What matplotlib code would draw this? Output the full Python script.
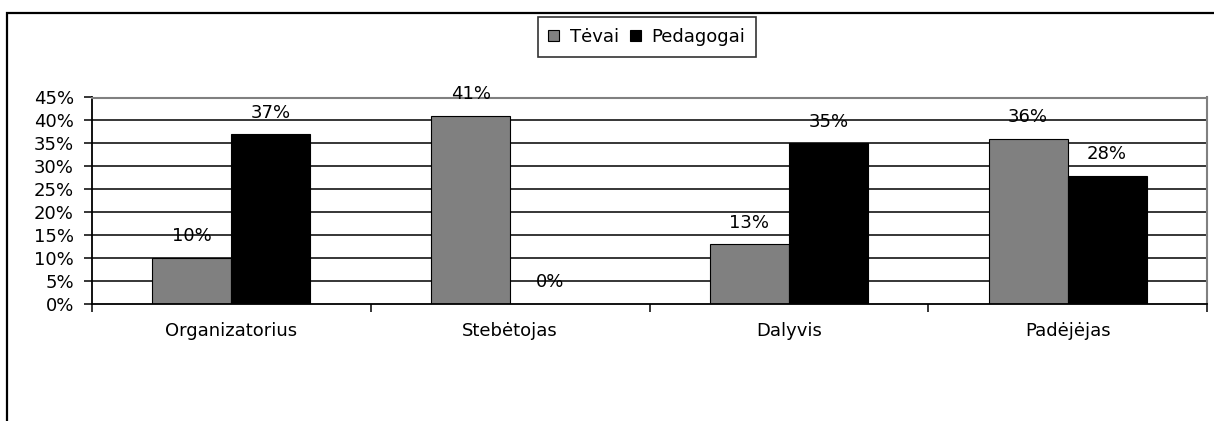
import numpy as np
import matplotlib.pyplot as plt
from matplotlib.patches import Rectangle
from matplotlib.ticker import FixedLocator, NullFormatter

plt.rcParams['font.family'] = ['DejaVu Sans']

categories = ['Organizatorius', 'Stebėtojas', 'Dalyvis', 'Padėjėjas']
series_names = ['Tėvai', 'Pedagogai']
tevai = [10, 41, 13, 36]
pedagogai = [37, 0, 35, 28]
yticks = [0, 5, 10, 15, 20, 25, 30, 35, 40, 45]

W, H = 1214, 421
fs = 13

fig = plt.figure(figsize=(W / 100, H / 100), dpi=100)
ax = fig.add_axes([92 / W, 1 - 304 / H, (1207 - 92) / W, (304 - 97.5) / H])

x = np.arange(len(categories)) + 0.5
w = 0.283

# grid lines (black), top one is the grey plot border
for t in yticks[1:-1]:
    ax.axhline(t, color='black', lw=1.1, zorder=1)

b1 = ax.bar(x - w / 2, tevai, w, color='#808080', edgecolor='black', lw=0.8,
            zorder=2, label=series_names[0])
b2 = ax.bar(x + w / 2, pedagogai, w, color='black', edgecolor='black', lw=0.8,
            zorder=2, label=series_names[1])

for bars, vals in [(b1, tevai), (b2, pedagogai)]:
    for rect, v in zip(bars, vals):
        ax.annotate(f'{v}%', (rect.get_x() + rect.get_width() / 2, v),
                    xytext=(0, 12), textcoords='offset points',
                    ha='center', va='baseline', fontsize=fs, zorder=3)

ax.set_xlim(0, len(categories))
ax.set_ylim(0, 45)
ax.set_yticks(yticks)
ax.set_yticklabels([f'{t}%' for t in yticks], fontsize=fs)

# category boundary ticks, labels in the middle
ax.xaxis.set_major_locator(FixedLocator(np.arange(len(categories) + 1)))
ax.xaxis.set_major_formatter(NullFormatter())
ax.set_xticks(x, minor=True)
ax.set_xticklabels(categories, minor=True, fontsize=fs)
ax.tick_params(axis='x', which='minor', length=0, pad=13)
ax.tick_params(axis='x', which='major', length=6, width=1.1, direction='out')
ax.tick_params(axis='y', length=6, width=1.1, direction='out', pad=7)

ax.spines['left'].set_color('black')
ax.spines['bottom'].set_color('black')
ax.spines['left'].set_linewidth(1.3)
ax.spines['bottom'].set_linewidth(1.3)
ax.spines['top'].set_color('#808080')
ax.spines['right'].set_color('#808080')
ax.spines['top'].set_linewidth(1.5)
ax.spines['right'].set_linewidth(1.5)

leg = fig.legend(handles=[b1, b2], labels=series_names, loc='center',
                 bbox_to_anchor=(647 / W, 1 - 37 / H), ncol=2, fontsize=fs,
                 frameon=True, fancybox=False, handlelength=0.6,
                 handleheight=0.6, handletextpad=0.6, columnspacing=0.6,
                 borderpad=0.6, borderaxespad=0)
leg.get_frame().set_edgecolor('black')
leg.get_frame().set_linewidth(1.2)

# outer chart border (right and bottom edges lie outside the image)
fig.add_artist(Rectangle((7 / W, -0.5), 1.5, 1 - 12.5 / H + 0.5,
                         transform=fig.transFigure, fill=False,
                         edgecolor='black', lw=1.6, clip_on=False))

fig.savefig('out.png', dpi=100)
